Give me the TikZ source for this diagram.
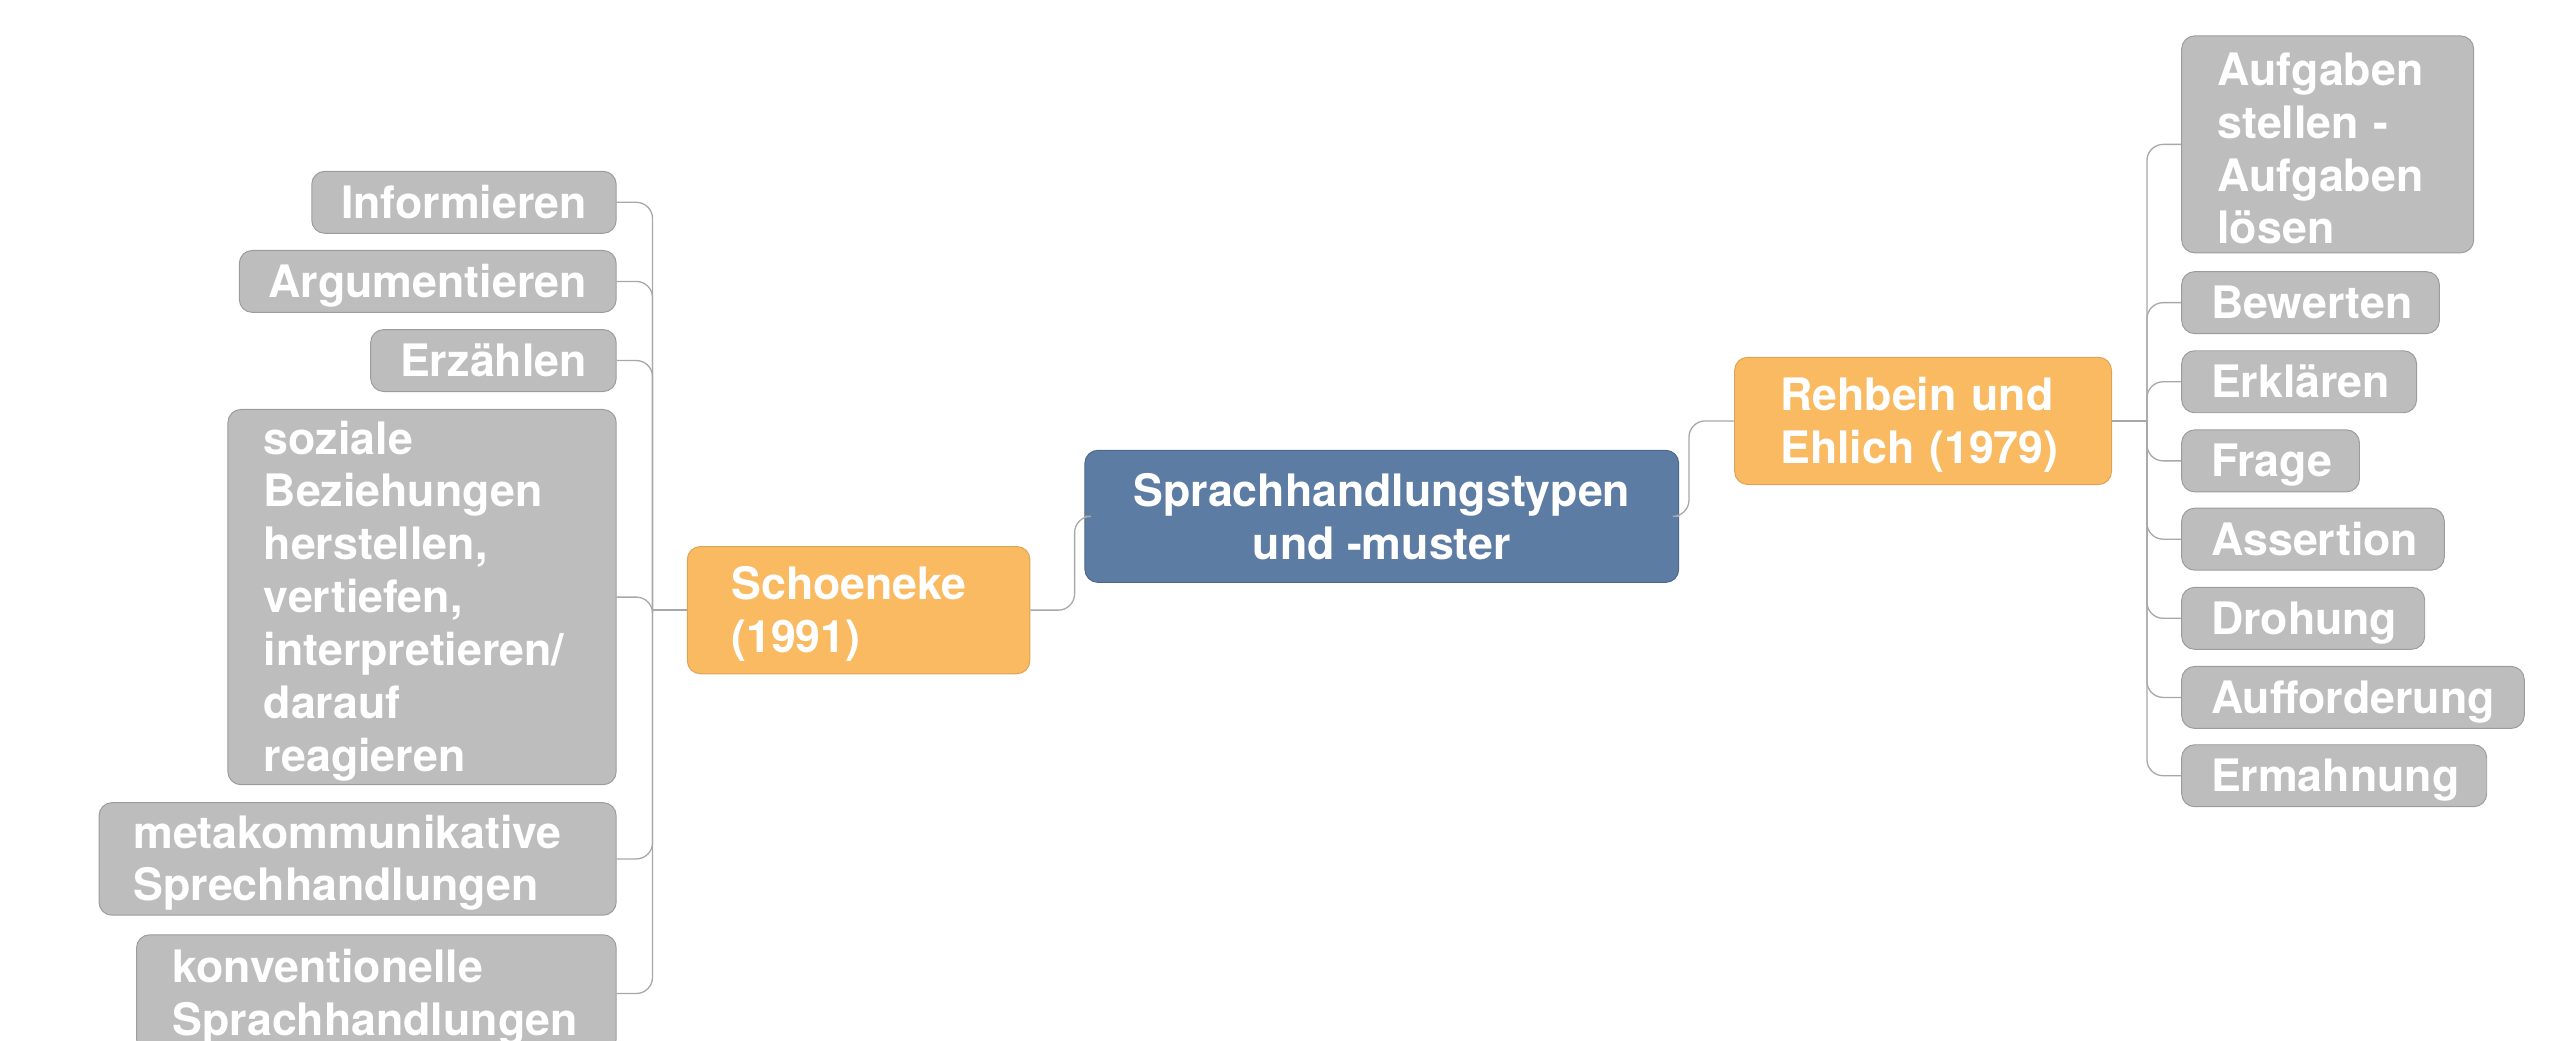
\documentclass[tikz,border=0pt]{standalone}
\usepackage{fontspec}
\setmainfont{TeX Gyre Heros}
\usepackage{tikz}
\definecolor{leafgrey}{HTML}{BDBDBD}
\definecolor{edgegrey}{HTML}{9C9C9C}
\definecolor{branchorange}{HTML}{F9BA62}
\definecolor{branchedge}{HTML}{DDA456}
\definecolor{rootblue}{HTML}{5C7CA4}
\definecolor{linkgrey}{HTML}{A8A8A8}
\newcommand{\padtop}{\rule{0pt}{25pt}}

\begin{document}
\begin{tikzpicture}[x=1pt, y=-1pt,
    box/.style={shape=rectangle, rounded corners=8pt, draw=edgegrey, line width=0.6pt, text=white, font=\fontsize{27.4}{32.4}\selectfont\bfseries, align=left},
    leaf/.style={box, fill=leafgrey, inner xsep=18pt, inner ysep=0pt, minimum height=38pt},
    oneline/.style={text height=22pt, text depth=2.5pt},
    branch/.style={box, fill=branchorange, draw=branchedge, minimum height=78pt},
    link/.style={draw=linkgrey, line width=0.8pt, rounded corners=10pt}]
    \useasboundingbox (0,0) rectangle (1568,638);

    \node[box, fill=rootblue, draw=rootblue!85!black, align=center, minimum width=364pt, minimum height=81pt] (C) at (847,316.5) {Sprachhandlungstypen\\und -muster};

    \node[branch, anchor=west, text width=156pt, inner xsep=27pt] (S) at (421,374) {\padtop Schoeneke\\(1991)};
    \node[branch, anchor=west, text width=175pt, inner xsep=28pt] (E) at (1063,258) {\padtop Rehbein und\\Ehlich (1979)};

    \node[leaf, oneline, anchor=east, minimum width=186pt] (S1) at (378,124) {Informieren};
    \node[leaf, oneline, anchor=east, minimum width=230pt] (S2) at (378,172.5) {Argumentieren};
    \node[leaf, oneline, anchor=east, minimum width=149pt] (S3) at (378,221) {Erzählen};
    \node[leaf, anchor=east, text width=194pt, inner xsep=22pt, minimum height=230pt] (S4) at (378,366) {\padtop soziale\\Beziehungen\\herstellen,\\vertiefen,\\interpretieren/\\darauf\\reagieren};
    \node[leaf, anchor=east, text width=275pt, inner xsep=21pt, minimum height=69pt] (S5) at (378,526.5) {\padtop metakommunikative\\Sprechhandlungen};
    \node[leaf, anchor=east, text width=250pt, inner xsep=22pt, minimum height=72pt] (S6) at (378,609) {\padtop konventionelle\\Sprachhandlungen};

    \node[leaf, anchor=west, text width=135pt, inner xsep=22pt, minimum height=133pt] (E1) at (1337,88.5) {\padtop Aufgaben\\stellen -\\Aufgaben\\lösen};
    \node[leaf, oneline, anchor=west, text width=122pt] (E2) at (1337,185.5) {Bewerten};
    \node[leaf, oneline, anchor=west, text width=108pt] (E3) at (1337,234) {Erklären};
    \node[leaf, oneline, anchor=west, text width=73pt] (E4) at (1337,282.5) {Frage};
    \node[leaf, oneline, anchor=west, text width=125pt] (E5) at (1337,330.5) {Assertion};
    \node[leaf, oneline, anchor=west, text width=113pt] (E6) at (1337,379) {Drohung};
    \node[leaf, oneline, anchor=west, text width=174pt] (E7) at (1337,427.5) {Aufforderung};
    \node[leaf, oneline, anchor=west, text width=151pt] (E8) at (1337,475.5) {Ermahnung};

    \coordinate (Lbus) at (400,374);
    \coordinate (Rbus) at (1316,258);

    \draw[link] (C.west) -- ++(-6,0) |- (S.east);
    \draw[link] (C.east) -- ++(6,0) |- (E.west);
    \draw[link] (S.west) -- (Lbus);
    \draw[link] (E.east) -- (Rbus);
    \foreach \n in {S1,S2,S3,S4,S5,S6}
        \draw[link] (Lbus) |- (\n.east);
    \foreach \n in {E1,E2,E3,E4,E5,E6,E7,E8}
        \draw[link] (Rbus) |- (\n.west);
\end{tikzpicture}
\end{document}
